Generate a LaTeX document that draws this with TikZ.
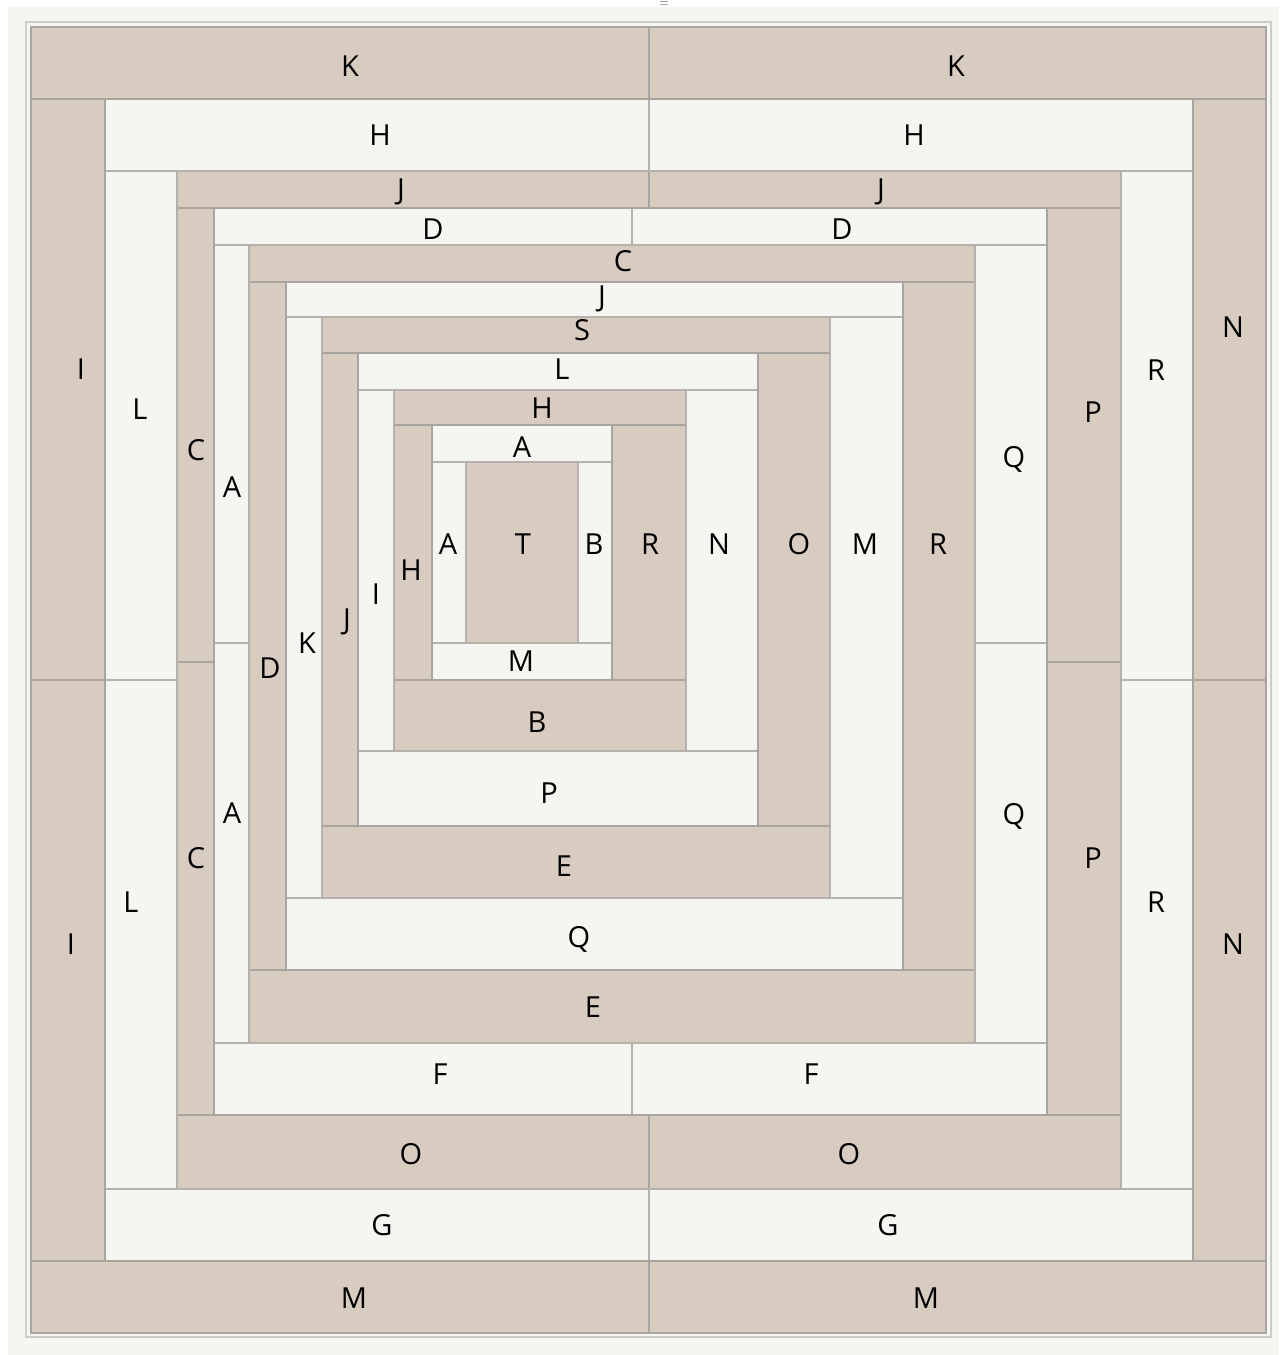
\documentclass[tikz,border=0pt]{standalone}
\usepackage{fontspec}
\setmainfont{Open Sans}
\usepackage{xcolor}
\usepackage{tikz}
\definecolor{fabricdark}{RGB}{216,204,192}
\definecolor{fabriclight}{RGB}{245,246,242}
\definecolor{seamgray}{RGB}{168,164,159}
\definecolor{edgegray}{RGB}{204,204,200}

\tikzset{
  darkstrip/.style={fill=fabricdark, draw=seamgray, line width=1.2pt},
  lightstrip/.style={fill=fabriclight, draw=seamgray!85, line width=1.2pt},
  piecelabel/.style={font=\fontsize{29}{29}\selectfont, inner sep=0pt, text height=20.7pt, text depth=0pt},
}

\begin{document}
\begin{tikzpicture}[x=1pt, y=-1pt]
\useasboundingbox (0,0) rectangle (1283,1355);

% Sheet and outer border
\fill[fabriclight] (8,7) rectangle (1279,1355);
\draw[edgegray, line width=1.2pt] (26,22) rectangle (1271,1337);
\draw[seamgray, line width=0.8pt] (660,1.5) -- (668,1.5) (660,4.5) -- (668,4.5);

% Centre square
\draw[darkstrip] (466,462) rectangle (578,643);

% Round 1 (light)
\draw[lightstrip] (432,425) rectangle (612,462);
\draw[lightstrip] (432,462) rectangle (466,643);
\draw[lightstrip] (578,462) rectangle (612,643);
\draw[lightstrip] (432,643) rectangle (612,680);

% Round 2 (dark)
\draw[darkstrip] (394,390) rectangle (686,425);
\draw[darkstrip] (394,425) rectangle (432,680);
\draw[darkstrip] (612,425) rectangle (686,680);
\draw[darkstrip] (394,680) rectangle (686,751);

% Round 3 (light)
\draw[lightstrip] (358,353) rectangle (758,390);
\draw[lightstrip] (358,390) rectangle (394,751);
\draw[lightstrip] (686,390) rectangle (758,751);
\draw[lightstrip] (358,751) rectangle (758,826);

% Round 4 (dark)
\draw[darkstrip] (322,317) rectangle (830,353);
\draw[darkstrip] (322,353) rectangle (358,826);
\draw[darkstrip] (758,353) rectangle (830,826);
\draw[darkstrip] (322,826) rectangle (830,898);

% Round 5 (light)
\draw[lightstrip] (286,282) rectangle (903,317);
\draw[lightstrip] (286,317) rectangle (322,898);
\draw[lightstrip] (830,317) rectangle (903,898);
\draw[lightstrip] (286,898) rectangle (903,970);

% Round 6 (dark)
\draw[darkstrip] (249,245) rectangle (975,282);
\draw[darkstrip] (249,282) rectangle (286,970);
\draw[darkstrip] (903,282) rectangle (975,970);
\draw[darkstrip] (249,970) rectangle (975,1043);

% Round 7 (light, pieced)
\draw[lightstrip] (214,208) rectangle (632,245);
\draw[lightstrip] (632,208) rectangle (1047,245);
\draw[lightstrip] (214,245) rectangle (249,643);
\draw[lightstrip] (214,643) rectangle (249,1043);
\draw[lightstrip] (975,245) rectangle (1047,643);
\draw[lightstrip] (975,643) rectangle (1047,1043);
\draw[lightstrip] (214,1043) rectangle (632,1115);
\draw[lightstrip] (632,1043) rectangle (1047,1115);

% Round 8 (dark, pieced)
\draw[darkstrip] (177,171) rectangle (649,208);
\draw[darkstrip] (649,171) rectangle (1121,208);
\draw[darkstrip] (177,208) rectangle (214,662);
\draw[darkstrip] (177,662) rectangle (214,1115);
\draw[darkstrip] (1047,208) rectangle (1121,662);
\draw[darkstrip] (1047,662) rectangle (1121,1115);
\draw[darkstrip] (177,1115) rectangle (649,1189);
\draw[darkstrip] (649,1115) rectangle (1121,1189);

% Round 9 (light, pieced)
\draw[lightstrip] (105,99) rectangle (649,171);
\draw[lightstrip] (649,99) rectangle (1193,171);
\draw[lightstrip] (105,171) rectangle (177,680);
\draw[lightstrip] (105,680) rectangle (177,1189);
\draw[lightstrip] (1121,171) rectangle (1193,680);
\draw[lightstrip] (1121,680) rectangle (1193,1189);
\draw[lightstrip] (105,1189) rectangle (649,1261);
\draw[lightstrip] (649,1189) rectangle (1193,1261);

% Round 10 (dark border)
\draw[darkstrip] (31,27) rectangle (649,99);
\draw[darkstrip] (649,27) rectangle (1266,99);
\draw[darkstrip] (31,99) rectangle (105,680);
\draw[darkstrip] (31,680) rectangle (105,1261);
\draw[darkstrip] (1193,99) rectangle (1266,680);
\draw[darkstrip] (1193,680) rectangle (1266,1261);
\draw[darkstrip] (31,1261) rectangle (649,1333);
\draw[darkstrip] (649,1261) rectangle (1266,1333);

% Labels: top strips
\node[piecelabel] (kTopL) at (350,66) {K};
\node[piecelabel] (kTopR) at (956,66) {K};
\node[piecelabel] (hTopL) at (380,135) {H};
\node[piecelabel] (hTopR) at (914,135) {H};
\node[piecelabel] (jTopL) at (401,189) {J};
\node[piecelabel] (jTopR) at (881,189) {J};
\node[piecelabel] (dTopL) at (433,229) {D};
\node[piecelabel] (dTopR) at (842,229) {D};
\node[piecelabel] (cTop) at (623,261) {C};
\node[piecelabel] (jTop) at (602,296) {J};
\node[piecelabel] (sTop) at (582,330) {S};
\node[piecelabel] (lTop) at (562,369) {L};
\node[piecelabel] (hTop) at (542,408) {H};
\node[piecelabel] (aTop) at (522,447) {A};

% Labels: middle row
\node[piecelabel] (aMid) at (448,544) {A};
\node[piecelabel] (tMid) at (523,544) {T};
\node[piecelabel] (bMid) at (594,544) {B};
\node[piecelabel] (rMid) at (650,544) {R};
\node[piecelabel] (nMid) at (719,544) {N};
\node[piecelabel] (oMid) at (799,544) {O};
\node[piecelabel] (mMid) at (865,544) {M};
\node[piecelabel] (rMidOut) at (938,544) {R};

% Labels: bottom strips
\node[piecelabel] (mBot) at (521,661) {M};
\node[piecelabel] (bBot) at (537,722) {B};
\node[piecelabel] (pBot) at (549,793) {P};
\node[piecelabel] (eBot) at (564,866) {E};
\node[piecelabel] (qBot) at (579,937) {Q};
\node[piecelabel] (eBotOut) at (593,1007) {E};
\node[piecelabel] (fBotL) at (440,1074) {F};
\node[piecelabel] (fBotR) at (811,1074) {F};
\node[piecelabel] (oBotL) at (411,1154) {O};
\node[piecelabel] (oBotR) at (849,1154) {O};
\node[piecelabel] (gBotL) at (382,1225) {G};
\node[piecelabel] (gBotR) at (888,1225) {G};
\node[piecelabel] (mBotL) at (354,1298) {M};
\node[piecelabel] (mBotR) at (926,1298) {M};

% Labels: left strips
\node[piecelabel] (iLeftU) at (81,369) {I};
\node[piecelabel] (iLeftD) at (71,944) {I};
\node[piecelabel] (lLeftU) at (140,409) {L};
\node[piecelabel] (lLeftD) at (131,902) {L};
\node[piecelabel] (cLeftU) at (196,450) {C};
\node[piecelabel] (cLeftD) at (196,858) {C};
\node[piecelabel] (aLeftU) at (232,487) {A};
\node[piecelabel] (aLeftD) at (232,813) {A};
\node[piecelabel] (dLeft) at (270,668) {D};
\node[piecelabel] (kLeft) at (307,643) {K};
\node[piecelabel] (jLeft) at (347,619) {J};
\node[piecelabel] (iLeft) at (376,594) {I};
\node[piecelabel] (hLeft) at (411,570) {H};

% Labels: right strips
\node[piecelabel] (qRightU) at (1014,457) {Q};
\node[piecelabel] (qRightD) at (1014,814) {Q};
\node[piecelabel] (pRightU) at (1093,412) {P};
\node[piecelabel] (pRightD) at (1093,858) {P};
\node[piecelabel] (rRightU) at (1156,370) {R};
\node[piecelabel] (rRightD) at (1156,902) {R};
\node[piecelabel] (nRightU) at (1233,327) {N};
\node[piecelabel] (nRightD) at (1233,944) {N};

\end{tikzpicture}
\end{document}
